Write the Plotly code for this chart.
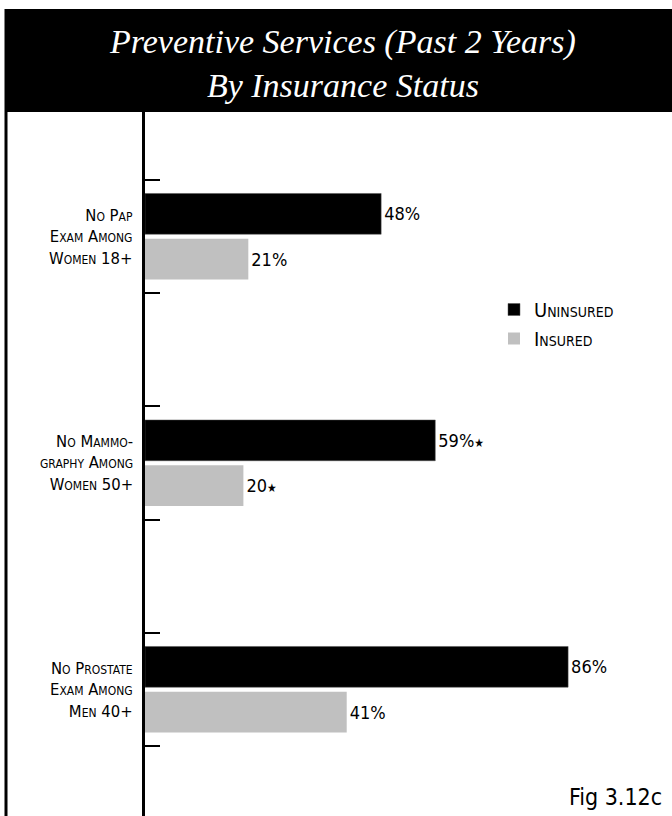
import plotly.graph_objects as go

# ---- data ----
categories = [["No Pap", "Exam Among", "Women 18+"],
              ["No Mammo-", "graphy Among", "Women 50+"],
              ["No Prostate", "Exam Among", "Men 40+"]]
cat_pos = [0, 1, 2]
uninsured = [48, 59, 86]
insured = [21, 20, 41]
uninsured_text = ["48%", "59%<span style='font-size:12px'>★</span>", "86%"]
insured_text = ["21%", "20<span style='font-size:12px'>★</span>", "41%"]
series_names = ["Uninsured", "Insured"]
title_text = "Preventive Services (Past 2 Years)<br>By Insurance Status"
fig_label = "Fig 3.12c"

W, H = 672, 816
L, R, T, B = 145, 35, 112, 0
PW, PH = W - L - R, H - T - B

def px_x(p):
    return (p - L) / PW

def px_y(p):
    return (H - B - p) / PH

narrow = "Liberation Sans Narrow, DejaVu Sans Condensed, sans-serif"
value_font = dict(family=narrow, size=18, color="black")
label_font = dict(family="DejaVu Sans Condensed, Lato, sans-serif", size=16.5, color="black", variant="small-caps")

fig = go.Figure()
fig.add_trace(go.Bar(
    y=cat_pos, x=uninsured, orientation="h", name=series_names[0],
    marker=dict(color="black", line=dict(color="#555555", width=0.5)),
    width=0.18, offset=-0.19,
    text=uninsured_text, textposition="outside", textfont=value_font,
    cliponaxis=False,
))
fig.add_trace(go.Bar(
    y=cat_pos, x=insured, orientation="h", name=series_names[1],
    marker=dict(color="#c0c0c0", line=dict(width=0)),
    width=0.18, offset=0.01,
    text=insured_text, textposition="outside", textfont=value_font,
    cliponaxis=False,
))

annotations = []
for pos, lines in zip(cat_pos, categories):
    annotations.append(dict(
        x=px_x(135), xref="paper", xanchor="right",
        y=pos, yref="y", yanchor="middle",
        text="<br>".join(lines), showarrow=False, align="right",
        font=label_font,
    ))
annotations.append(dict(
    x=px_x(342), xref="paper", xanchor="center",
    y=px_y(63), yref="paper", yanchor="middle",
    text=title_text, showarrow=False, align="center",
    font=dict(family="Liberation Serif, DejaVu Serif, serif", size=34, color="white", style="italic"),
))
annotations.append(dict(
    x=px_x(664), xref="paper", xanchor="right",
    y=px_y(812), yref="paper", yanchor="bottom",
    text=fig_label, showarrow=False,
    font=dict(family=narrow, size=23, color="black"),
))

shapes = [
    dict(type="rect", xref="paper", yref="paper",
         x0=px_x(5), x1=px_x(680), y0=px_y(112), y1=px_y(9),
         fillcolor="black", line=dict(width=0), layer="above"),
    dict(type="line", xref="paper", yref="paper",
         x0=px_x(6), x1=px_x(6), y0=px_y(9), y1=px_y(830),
         line=dict(color="black", width=3)),
]

fig.update_layout(
    width=W, height=H,
    margin=dict(l=L, r=R, t=T, b=B, pad=0),
    paper_bgcolor="white", plot_bgcolor="white",
    barmode="overlay",
    showlegend=True,
    legend=dict(
        x=px_x(494), xanchor="left", y=px_y(290), yanchor="top",
        font=dict(family="DejaVu Sans Condensed, Lato, sans-serif", size=20, color="black", variant="small-caps"),
        bgcolor="rgba(0,0,0,0)", traceorder="normal", tracegroupgap=0,
    ),
    xaxis=dict(range=[0, 100], visible=False, fixedrange=True),
    yaxis=dict(
        range=[(816 - 236.5) / 226.5, (112 - 236.5) / 226.5],
        tickvals=[-0.25, 0.25, 0.75, 1.25, 1.75, 2.25],
        ticks="inside", ticklen=15, tickwidth=2, tickcolor="black",
        showticklabels=False, showline=True, linecolor="black", linewidth=3,
        showgrid=False, zeroline=False, fixedrange=True,
    ),
    annotations=annotations,
    shapes=shapes,
)

fig.write_html("out.html")
